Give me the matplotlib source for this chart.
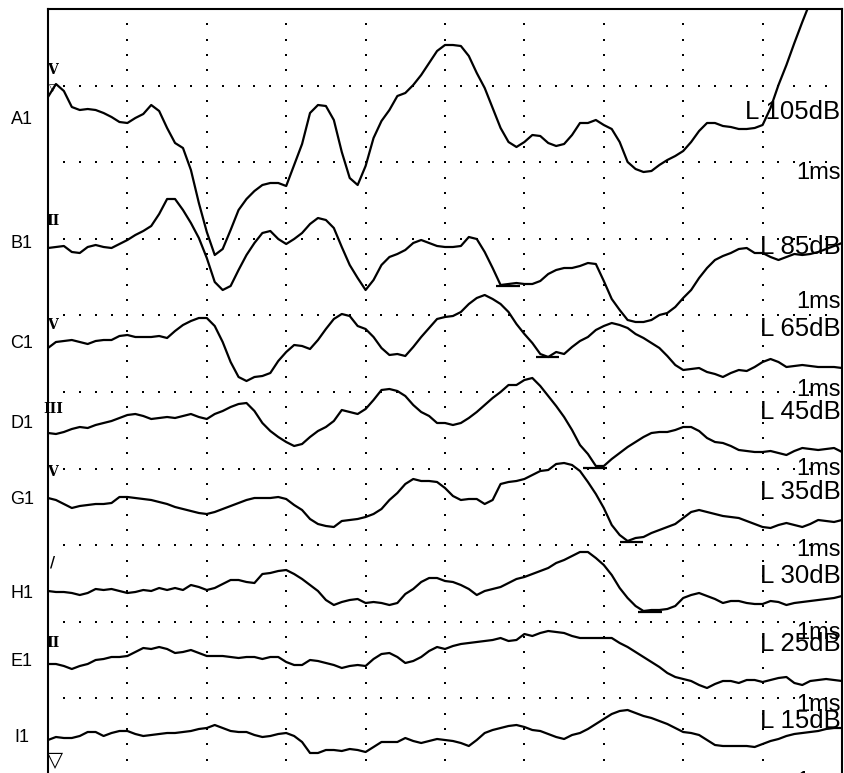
import numpy as np
import matplotlib
matplotlib.use("Agg")
import matplotlib.pyplot as plt

plt.rcParams['font.family'] = ['Liberation Sans', 'DejaVu Sans']

# time axis: 0..10 ms, one sample every 0.1 ms
time_ms = np.linspace(0, 10, 101)

# waveforms (arbitrary amplitude units, 76.6 per grid division)
a1 = [678, 691, 684, 668, 665, 666, 665, 662, 658, 653,
      652, 657, 661, 670, 664, 647, 632, 627, 605, 572,
      543, 520, 526, 545, 565, 576, 584, 590, 592, 592,
      589, 610, 631, 662, 670, 669, 655, 623, 597, 590,
      609, 637, 654, 665, 679, 682, 690, 700, 712, 724,
      730, 730, 729, 719, 702, 687, 667, 647, 633, 628,
      633, 640, 639, 632, 629, 631, 640, 652, 652, 655,
      650, 646, 633, 613, 606, 603, 604, 610, 615, 619,
      624, 633, 644, 652, 652, 649, 648, 646, 646, 647,
      650, 667, 690, 710, 732, 753, 773, 793, 813, 833,
      853]
b1 = [527, 528, 529, 523, 522, 528, 530, 528, 527, 531,
      535, 540, 544, 549, 561, 576, 576, 565, 552, 537,
      517, 493, 485, 489, 505, 520, 532, 542, 544, 536,
      531, 536, 542, 551, 557, 555, 547, 528, 510, 497,
      485, 495, 510, 518, 521, 525, 532, 535, 532, 529,
      528, 528, 529, 538, 536, 523, 507, 490, 491, 492,
      491, 491, 494, 501, 505, 507, 507, 509, 512, 511,
      494, 476, 465, 455, 453, 453, 455, 460, 462, 468,
      477, 485, 497, 507, 515, 519, 522, 526, 527, 522,
      522, 518, 515, 518, 521, 520, 521, 523, 526, 529,
      532]
c1 = [427, 433, 434, 435, 433, 431, 434, 435, 435, 439,
      440, 438, 438, 438, 439, 437, 444, 450, 454, 457,
      457, 449, 433, 413, 398, 394, 398, 399, 402, 414,
      423, 430, 429, 426, 435, 446, 456, 461, 459, 449,
      446, 438, 427, 420, 421, 419, 428, 438, 447, 456,
      458, 459, 463, 471, 477, 480, 476, 471, 463, 451,
      441, 432, 421, 418, 423, 421, 428, 434, 438, 445,
      449, 452, 450, 447, 441, 437, 432, 427, 419, 410,
      405, 406, 407, 403, 401, 398, 402, 405, 404, 408,
      413, 416, 413, 408, 409, 410, 409, 408, 408, 408,
      407]
d1 = [342, 341, 343, 346, 348, 347, 350, 352, 354, 357,
      360, 361, 359, 356, 357, 358, 357, 359, 361, 358,
      356, 361, 364, 368, 371, 372, 364, 352, 344, 338,
      333, 329, 331, 338, 344, 348, 354, 365, 363, 361,
      366, 375, 385, 386, 384, 379, 370, 363, 359, 352,
      352, 350, 352, 357, 363, 370, 377, 383, 390, 390,
      395, 397, 389, 379, 369, 358, 345, 330, 321, 309,
      309, 316, 322, 328, 333, 338, 342, 343, 343, 345,
      348, 348, 344, 337, 333, 332, 329, 325, 324, 323,
      323, 324, 322, 320, 324, 327, 326, 325, 326, 327,
      323]
g1 = [277, 275, 271, 267, 269, 270, 271, 271, 272, 278,
      278, 277, 276, 275, 273, 271, 268, 266, 264, 262,
      261, 263, 266, 269, 272, 275, 277, 277, 277, 278,
      276, 270, 265, 256, 251, 249, 248, 254, 255, 256,
      258, 261, 266, 275, 282, 291, 296, 294, 294, 293,
      287, 279, 275, 276, 276, 271, 275, 291, 293, 294,
      296, 300, 304, 305, 311, 312, 310, 304, 293, 281,
      267, 250, 240, 234, 237, 238, 242, 245, 248, 251,
      257, 263, 265, 263, 261, 259, 258, 257, 254, 251,
      248, 247, 250, 252, 250, 248, 251, 255, 254, 253,
      255]
h1 = [184, 183, 183, 182, 180, 182, 186, 185, 186, 184,
      182, 183, 185, 184, 187, 185, 187, 185, 190, 188,
      185, 187, 191, 195, 195, 193, 192, 201, 202, 204,
      205, 201, 196, 190, 184, 175, 170, 173, 175, 176,
      172, 173, 172, 170, 172, 181, 186, 193, 197, 197,
      194, 193, 190, 186, 180, 184, 186, 188, 192, 196,
      198, 201, 204, 207, 212, 215, 219, 223, 223, 217,
      210, 200, 187, 177, 169, 164, 165, 165, 166, 169,
      177, 180, 182, 179, 176, 172, 174, 174, 172, 171,
      171, 174, 173, 170, 172, 173, 174, 175, 176, 177,
      179]
e1 = [111, 111, 109, 106, 109, 111, 115, 116, 118, 118,
      119, 123, 127, 126, 128, 126, 122, 123, 125, 122,
      119, 119, 119, 118, 117, 118, 118, 116, 118, 118,
      113, 110, 110, 115, 114, 112, 110, 107, 109, 110,
      109, 116, 121, 122, 118, 112, 114, 118, 124, 128,
      126, 129, 131, 132, 133, 134, 135, 137, 134, 135,
      141, 139, 142, 144, 143, 142, 139, 137, 137, 137,
      137, 137, 132, 128, 123, 118, 113, 108, 102, 98,
      96, 94, 90, 87, 91, 94, 94, 92, 95, 95,
      93, 95, 97, 98, 92, 90, 94, 95, 96, 95,
      94]
i1 = [35, 38, 37, 37, 39, 43, 43, 39, 42, 44,
      44, 41, 39, 40, 41, 42, 42, 43, 44, 46,
      47, 50, 47, 44, 43, 43, 40, 38, 39, 41,
      42, 39, 33, 22, 22, 25, 25, 24, 26, 25,
      23, 28, 33, 33, 33, 37, 34, 32, 34, 36,
      35, 34, 32, 29, 35, 42, 45, 47, 49, 50,
      48, 45, 44, 41, 38, 36, 40, 42, 46, 51,
      56, 61, 64, 65, 62, 59, 57, 54, 51, 47,
      43, 42, 40, 35, 30, 29, 29, 29, 29, 28,
      31, 34, 36, 39, 41, 42, 43, 44, 46, 47,
      47]

traces = [a1, b1, c1, d1, g1, h1, e1, i1]
trace_names = ['A1', 'B1', 'C1', 'D1', 'G1', 'H1', 'E1', 'I1']
levels = ['L 105dB', 'L 85dB', 'L 65dB', 'L 45dB', 'L 35dB', 'L 30dB', 'L 25dB', 'L 15dB']
start_marks = ['V', 'II', 'V', 'III', 'V', '/', 'II', '']

# label heights (same units as the waveforms)
name_y = [655, 532, 431, 352, 275, 182, 113, 38]
level_y = [663, 528, 446, 363, 283, 199, 131, 54]
ms_y = [602, 473, 385, 306, 225, 142, 70, -7]
mark_y = [705, 554, 450, 366, 303, 212, 132, 15]

# wave V latency markers (ms, amplitude) for B1..H1
peak_ms = [5.79, 6.29, 6.89, 7.35, 7.58]
peak_amp = [489, 418, 307, 233, 163]

div = 76.6

fig = plt.figure(figsize=(8.45, 7.73), dpi=100)
ax = fig.add_axes([48 / 845, -2 / 773, 794 / 845, 766 / 773])
ax.set_xlim(0, 10)
ax.set_ylim(0, 10 * div)

# dotted grid
gx = np.arange(1, 50) * 0.2
for k in range(1, 10):
    ax.plot(gx, np.full_like(gx, k * div), 's', ms=1.5, mew=0, color='k', zorder=1)
gy = np.arange(1, 50) * div / 5
for t in range(1, 10):
    ax.plot(np.full_like(gy, t), gy, 's', ms=1.5, mew=0, color='k', zorder=1)

for y in traces:
    assert len(y) == len(time_ms)
    ax.plot(time_ms, y, color='k', lw=1.6, zorder=3)

for t, a in zip(peak_ms, peak_amp):
    ax.hlines(a, t - 0.15, t + 0.15, color='k', lw=1.6, zorder=3)

for i, name in enumerate(trace_names):
    ax.text(-0.33, name_y[i], name, ha='center', va='center', fontsize=13, clip_on=False)
    ax.text(9.98, level_y[i], levels[i], ha='right', va='center', fontsize=18.5, zorder=4)
    ax.text(9.99, ms_y[i], '1ms', ha='right', va='center', fontsize=17, zorder=4)
    if start_marks[i]:
        ax.text(0.06, mark_y[i], start_marks[i], ha='center', va='center', fontsize=10,
                family='DejaVu Serif', fontweight='bold', zorder=4)

# stimulus triangles
ax.text(0.06, 687, '▽', ha='center', va='center', fontsize=7, family='DejaVu Sans', zorder=4)
ax.text(0.09, 15, '▽', ha='center', va='center', fontsize=15, family='DejaVu Sans', zorder=4)

ax.set_xticks([])
ax.set_yticks([])
for side in ['top', 'left', 'right']:
    ax.spines[side].set_linewidth(1.5)
ax.spines['bottom'].set_visible(False)

fig.savefig('out.png', dpi=100)
